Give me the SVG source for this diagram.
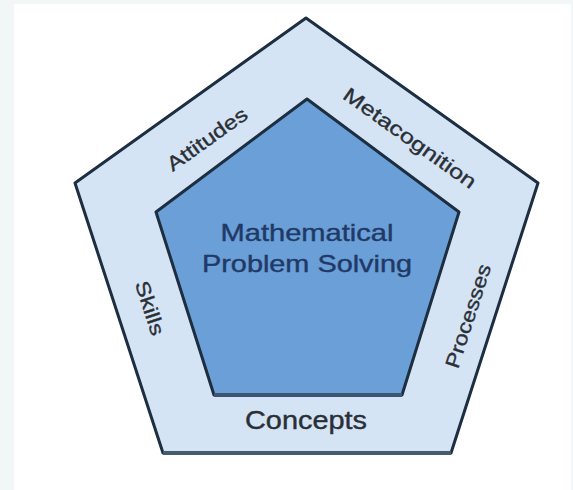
<svg xmlns="http://www.w3.org/2000/svg" width="573" height="490" viewBox="0 0 573 490">
  <style>
    .edge { stroke: #1c2e40; stroke-width: 3; stroke-linejoin: round; }
    .band { fill: #d5e4f5; }
    .core { fill: #6b9fd8; }
    .lbl { font-family: "Liberation Sans", Arial, sans-serif; font-size: 20px; fill: #2a2f36; stroke: #2a2f36; stroke-width: 0.35; text-anchor: middle; }
    .ctr { font-family: "Liberation Sans", Arial, sans-serif; font-size: 24px; fill: #1f3a66; stroke: #1f3a66; stroke-width: 0.4; text-anchor: middle; }
    .cpt { font-family: "Liberation Sans", Arial, sans-serif; font-size: 25px; fill: #2a2f36; stroke: #2a2f36; stroke-width: 0.4; text-anchor: middle; }
  </style>
  <rect x="0" y="0" width="573" height="490" fill="#f1f6f7"/>
  <rect x="14" y="4" width="557" height="486" fill="#ffffff"/>

  <g id="outer">
    <polygon class="band edge" points="306,18 538,183 451,453 163,453 75,183"/>
    <line x1="163" y1="453" x2="451" y2="453" stroke="#465c6c" stroke-width="4"/>
  </g>

  <g id="inner">
    <polygon class="core edge" points="307,99 459,212 402,395 214,395 156,212"/>
    <line x1="214" y1="395" x2="402" y2="395" stroke="#3b5670" stroke-width="4"/>
    <text class="ctr" x="307" y="241" textLength="173" lengthAdjust="spacingAndGlyphs">Mathematical</text>
    <text class="ctr" x="307" y="272" textLength="210" lengthAdjust="spacingAndGlyphs">Problem Solving</text>
  </g>

  <g id="attitudes">
    <text class="lbl" transform="translate(207,139) rotate(-35.5)" x="0" y="7" textLength="94" lengthAdjust="spacingAndGlyphs">Attitudes</text>
  </g>
  <g id="metacognition">
    <text class="lbl" transform="translate(410,138) rotate(35.5)" x="0" y="7" textLength="158" lengthAdjust="spacingAndGlyphs">Metacognition</text>
  </g>
  <g id="skills">
    <text class="lbl" transform="translate(150,308) rotate(72)" x="0" y="7" textLength="56" lengthAdjust="spacingAndGlyphs">Skills</text>
  </g>
  <g id="processes">
    <text class="lbl" transform="translate(468,316) rotate(-72)" x="0" y="7" textLength="108" lengthAdjust="spacingAndGlyphs">Processes</text>
  </g>
  <g id="concepts">
    <text class="cpt" x="306" y="429" textLength="122" lengthAdjust="spacingAndGlyphs">Concepts</text>
  </g>

  <g id="connectors"></g>
</svg>
